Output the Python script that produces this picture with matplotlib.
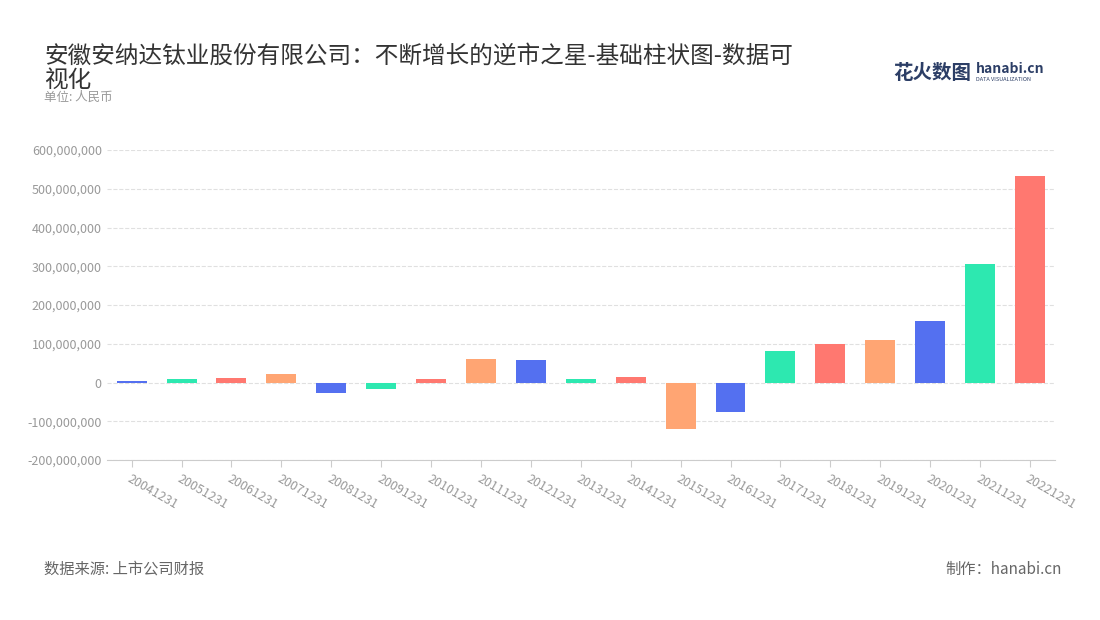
import matplotlib.pyplot as plt
from matplotlib.ticker import FuncFormatter

plt.rcParams['font.family'] = ['Noto Sans CJK SC', 'DejaVu Sans']

years = ['20041231', '20051231', '20061231', '20071231', '20081231', '20091231', '20101231',
         '20111231', '20121231', '20131231', '20141231', '20151231', '20161231', '20171231',
         '20181231', '20191231', '20201231', '20211231', '20221231']
values = [3e6, 10e6, 12e6, 23e6, -28e6, -17e6, 8e6, 60e6, 58e6, 10e6, 14e6, -120e6, -77e6,
          81e6, 100e6, 109e6, 158e6, 307e6, 534e6]
palette = ['#5470f0', '#2de8b0', '#ff7870', '#ffa573']

fig = plt.figure(figsize=(11, 6.2), dpi=100)
ax = fig.add_axes([0.097, 0.258, 0.862, 0.5])

colors = [palette[i % 4] for i in range(len(values))]
ax.bar(range(len(values)), values, width=0.6, color=colors, zorder=3)

ax.set_xlim(-0.5, len(values) - 0.5)
ax.set_ylim(-200e6, 600e6)
ax.set_yticks([i * 100e6 for i in range(-2, 7)])
ax.yaxis.set_major_formatter(FuncFormatter(lambda v, p: f'{int(v):,}'))
ax.set_xticks(range(len(values)))
ax.set_xticklabels(years, rotation=-30, ha='left', rotation_mode='anchor')
ax.tick_params(axis='both', colors='#999999', labelsize=9, length=0)
ax.tick_params(axis='x', length=5, color='#cccccc')
ax.grid(axis='y', linestyle='--', color='#e0e0e0', zorder=0)
for s in ['top', 'right', 'left']:
    ax.spines[s].set_visible(False)
ax.spines['bottom'].set_color('#cccccc')

fig.text(0.04, 0.89, '安徽安纳达钛业股份有限公司：不断增长的逆市之星-基础柱状图-数据可\n视化',
         fontsize=17, color='#333333', va='center', linespacing=1.1)
fig.text(0.04, 0.838, '单位: 人民币', fontsize=9, color='#999999')
fig.text(0.812, 0.873, '花火数图', fontsize=14, color='#2c3e66', weight='bold')
fig.text(0.887, 0.882, 'hanabi.cn', fontsize=10, color='#2c3e66', weight='bold')
fig.text(0.887, 0.869, 'DATA VISUALIZATION', fontsize=4, color='#2c3e66')
fig.text(0.04, 0.075, '数据来源: 上市公司财报', fontsize=11, color='#666666')
fig.text(0.965, 0.075, '制作：hanabi.cn', fontsize=11, color='#666666', ha='right')

fig.savefig('out.png')
